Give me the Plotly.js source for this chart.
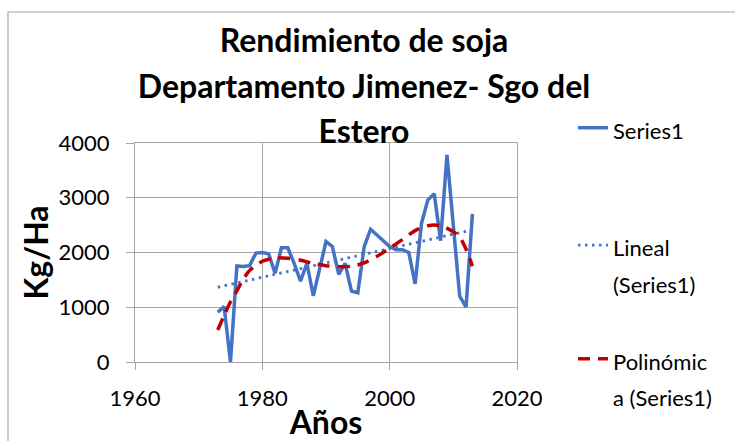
<!DOCTYPE html>
<html>
<head>
<meta charset="utf-8">
<script src="https://cdn.plot.ly/plotly-3.0.1.min.js"></script>
<style>html,body{margin:0;padding:0;background:#fff;}#chart{width:735px;height:441px;}</style>
</head>
<body>
<div id="chart"></div>
<script>
// Data
var years = [1973,1974,1975,1976,1977,1978,1979,1980,1981,1982,1983,1984,1985,1986,1987,1988,1989,1990,1991,1992,1993,1994,1995,1996,1997,1998,1999,2000,2001,2002,2003,2004,2005,2006,2007,2008,2009,2010,2011,2012,2013];
var yields = [910,1010,0,1755,1745,1760,1990,2000,1975,1620,2085,2085,1800,1475,1804,1210,1700,2200,2110,1600,1800,1295,1265,2108,2425,2322,2212,2108,2050,2050,2000,1426,2535,2962,3071,2215,3784,2450,1200,1005,2706];

// Linear trend line
var linYears = [1973, 2013];
var linValues = [1365, 2413];

// Polynomial trend line
var polyYears = [1973,1974,1975,1976,1977,1978,1980,1982,1984,1986,1988,1990,1992,1994,1996,1998,2000,2002,2004,2006,2008,2010,2011,2012,2013];
var polyValues = [585,850,1100,1300,1510,1670,1840,1900,1895,1860,1800,1760,1742,1750,1810,1930,2080,2235,2400,2490,2490,2380,2280,2060,1750];

var seriesNames = ['Series1', 'Lineal<br>(Series1)', 'Polinómic<br>a (Series1)'];
var titleLines = ['Rendimiento de soja', 'Departamento Jimenez- Sgo del', 'Estero'];
var xTitle = 'Años';
var yTitle = 'Kg/Ha';

var FONT = 'Lato, "Open Sans", sans-serif';
function sp(t, s){ return t.split('<br>').map(function(p){return "<span style='font-size:"+s+"px'>"+p+"</span>";}).join('<br>'); }

var traces = [
  {x: years, y: yields, type: 'scatter', mode: 'lines', name: sp(seriesNames[0],22),
   line: {color: '#4472C4', width: 3.5}, legend: 'legend', showlegend: true},
  {x: linYears, y: linValues, type: 'scatter', mode: 'lines', name: sp(seriesNames[1],22),
   line: {color: '#4472C4', width: 2.8, dash: '2.5px,4.5px'}, legend: 'legend2', showlegend: true},
  {x: polyYears, y: polyValues, type: 'scatter', mode: 'lines', name: sp(seriesNames[2],22),
   line: {color: '#C00000', width: 3.5, dash: '12px,8px', shape: 'spline', smoothing: 0.8}, legend: 'legend3', showlegend: true}
];

var L = 135, R = 218, T = 143, B = 79, W = 735, H = 441;
var pw = W - L - R, ph = H - T - B;
function px2x(px){ return (px - L) / pw; }
function py2y(py){ return (H - B - py) / ph; }

var legendBase = {xanchor: 'left', x: px2x(573), yanchor: 'middle', bgcolor: 'rgba(0,0,0,0)',
  font: {family: FONT, size: 28, color: '#000'}, valign: 'top', itemwidth: 30, borderwidth: 0, visible: true};

var layout = {
  width: W, height: H,
  showlegend: true,
  margin: {l: L, r: R, t: T, b: B, pad: 0},
  paper_bgcolor: '#fff', plot_bgcolor: '#fff',
  font: {family: FONT, color: '#000'},
  title: {
    text: titleLines.map(function(t){return "<span style='font-size:32px'>"+t+"</span>";}).join('<br>'),
    font: {family: FONT, size: 35, color: '#000', weight: 700},
    xref: 'container', x: 364 / W, xanchor: 'center',
    yref: 'container', y: 1 - 52 / H, yanchor: 'middle'
  },
  xaxis: {
    range: [1960, 2020], tick0: 1960, dtick: 20,
    showgrid: true, gridcolor: '#A6A6A6', gridwidth: 1,
    showline: true, linecolor: '#A6A6A6', linewidth: 1, mirror: true,
    ticks: 'outside', ticklen: 7, tickcolor: '#A6A6A6', ticklabelstandoff: 10,
    zeroline: false,
    tickfont: {family: FONT, size: 22, color: '#000'},
    title: {text: xTitle, font: {family: FONT, size: 32, color: '#000', weight: 700}, standoff: 4}
  },
  yaxis: {
    range: [0, 4000], tick0: 0, dtick: 1000,
    showgrid: true, gridcolor: '#A6A6A6', gridwidth: 1,
    showline: true, linecolor: '#A6A6A6', linewidth: 1, mirror: true,
    ticks: 'outside', ticklen: 8, tickcolor: '#A6A6A6', ticklabelstandoff: 12,
    zeroline: false,
    tickfont: {family: FONT, size: 22, color: '#000'},
    title: {text: yTitle, font: {family: FONT, size: 32, color: '#000', weight: 700}, standoff: 0}
  },
  legend: Object.assign({}, legendBase, {y: py2y(128)}),
  legend2: Object.assign({}, legendBase, {y: py2y(263.5)}),
  legend3: Object.assign({}, legendBase, {y: py2y(377)}),
  shapes: [
    {type: 'path', xref: 'paper', yref: 'paper',
     path: 'M' + px2x(8) + ',' + py2y(450) + ' L' + px2x(8) + ',' + py2y(12) + ' L' + px2x(745) + ',' + py2y(12),
     line: {color: '#A6A6A6', width: 1.2}}
  ]
};

Plotly.newPlot('chart', traces, layout, {displayModeBar: false, staticPlot: true});
</script>
</body>
</html>
